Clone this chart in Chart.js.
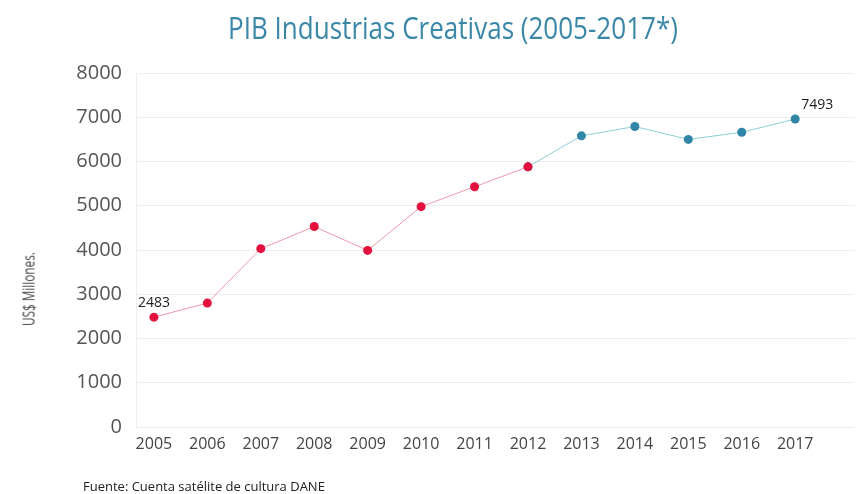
<!DOCTYPE html>
<html>
<head>
<meta charset="utf-8">
<script src="https://cdn.jsdelivr.net/npm/chart.js@4/dist/chart.umd.min.js"></script>
<style>
  html, body { margin: 0; padding: 0; background: #fff; }
  #wrap { position: relative; width: 859px; height: 494px; }
  #title { position: absolute; top: 6px; left: 453px; white-space: nowrap;
           font-family: "Open Sans", sans-serif; font-size: 31px; color: #3a87a8;
           transform-origin: center top; }
  #ylabel { position: absolute; left: 28px; top: 289px; white-space: nowrap;
            font-family: "Open Sans", sans-serif; font-size: 17px; color: #444; }
  #fuente { position: absolute; left: 83px; top: 477px; white-space: nowrap;
            font-family: "Open Sans", sans-serif; font-size: 13px; color: #222; }
</style>
</head>
<body>
<div id="wrap">
  <canvas id="chart" width="859" height="494"></canvas>
  <div id="title">PIB Industrias Creativas (2005-2017*)</div>
  <div id="ylabel">US$ Millones.</div>
  <div id="fuente">Fuente: Cuenta satélite de cultura DANE</div>
</div>
<script>
// años del eje x
const years = [2005, 2006, 2007, 2008, 2009, 2010, 2011, 2012, 2013, 2014, 2015, 2016, 2017];
const yTicks = [0, 1000, 2000, 3000, 4000, 5000, 6000, 7000, 8000];

// serie 2005-2012 (roja)
const yearsA = [2005, 2006, 2007, 2008, 2009, 2010, 2011, 2012];
const valuesA = [2483, 2800, 4030, 4530, 3990, 4980, 5430, 5880];
const labelsA = ['2483', '', '', '', '', '', '', ''];

// serie 2012-2017 (azul)
const yearsB = [2012, 2013, 2014, 2015, 2016, 2017];
const valuesB = [5880, 6580, 6790, 6500, 6660, 6960];
const labelsB = ['', '', '', '', '', '7493'];

function fitText(id, target, rotate) {
    const el = document.getElementById(id);
    const w = el.offsetWidth;
    const s = target / w;
    if (rotate) {
        el.style.transform = 'translate(-50%, -50%) rotate(-90deg) scaleX(' + s + ')';
    } else {
        el.style.transform = 'translateX(-50%) scaleX(' + s + ')';
    }
}
fitText('title', 450, false);
fitText('ylabel', 74, true);

const pointLabels = {
    id: 'pointLabels',
    afterDatasetsDraw(chart) {
        const ctx = chart.ctx;
        ctx.save();
        ctx.fillStyle = '#222';
        ctx.font = '14px "Open Sans"';
        ctx.textBaseline = 'middle';
        chart.data.datasets.forEach((ds, i) => {
            const meta = chart.getDatasetMeta(i);
            meta.data.forEach((pt, j) => {
                const txt = ds.pointLabels[j];
                if (!txt) return;
                if (j === ds.data.length - 1 && i === 1) {
                    ctx.textAlign = 'left';
                    ctx.fillText(txt, pt.x + 6, pt.y - 14);
                } else {
                    ctx.textAlign = 'center';
                    ctx.fillText(txt, pt.x, pt.y - 14);
                }
            });
        });
        ctx.restore();
    }
};

const ctx = document.getElementById('chart').getContext('2d');
const chart = new Chart(ctx, {
    type: 'line',
    data: {
        datasets: [{
            data: yearsA.map((x, i) => ({ x: x, y: valuesA[i] })),
            pointLabels: labelsA,
            borderColor: '#ec9aaa',
            borderWidth: 1,
            pointBackgroundColor: '#e4113f',
            pointBorderWidth: 0,
            pointRadius: 4.5,
            tension: 0
        }, {
            data: yearsB.map((x, i) => ({ x: x, y: valuesB[i] })),
            pointLabels: labelsB,
            borderColor: '#8ccfd3',
            borderWidth: 1,
            pointBackgroundColor: '#2f86a6',
            pointBorderWidth: 0,
            pointRadius: 4.5,
            tension: 0
        }]
    },
    options: {
        responsive: false,
        animation: false,
        layout: { padding: { top: 73, bottom: 41, left: 0, right: 1 } },
        plugins: {
            legend: { display: false },
            tooltip: { enabled: false }
        },
        scales: {
            x: {
                type: 'linear',
                min: 2004.665,
                max: 2018.11,
                afterBuildTicks: (s) => { s.ticks = years.map(v => ({ value: v })); },
                afterFit: (s) => { s.height = 26; },
                grid: { display: false },
                border: { display: false },
                ticks: {
                    callback: (v) => String(v),
                    autoSkip: false,
                    maxRotation: 0,
                    padding: 0,
                    color: '#444',
                    font: { family: 'Open Sans', size: 16 }
                }
            },
            y: {
                min: 0,
                max: 8000,
                afterBuildTicks: (s) => { s.ticks = yTicks.map(v => ({ value: v })); },
                afterFit: (s) => { s.width = 136; },
                grid: { color: '#eeeeee', drawTicks: false },
                border: { display: true, color: '#eeeeee' },
                ticks: {
                    callback: (v) => String(v),
                    padding: 14,
                    color: '#555',
                    font: { family: 'Open Sans', size: 20 }
                }
            }
        }
    },
    plugins: [pointLabels]
});
</script>
</body>
</html>
